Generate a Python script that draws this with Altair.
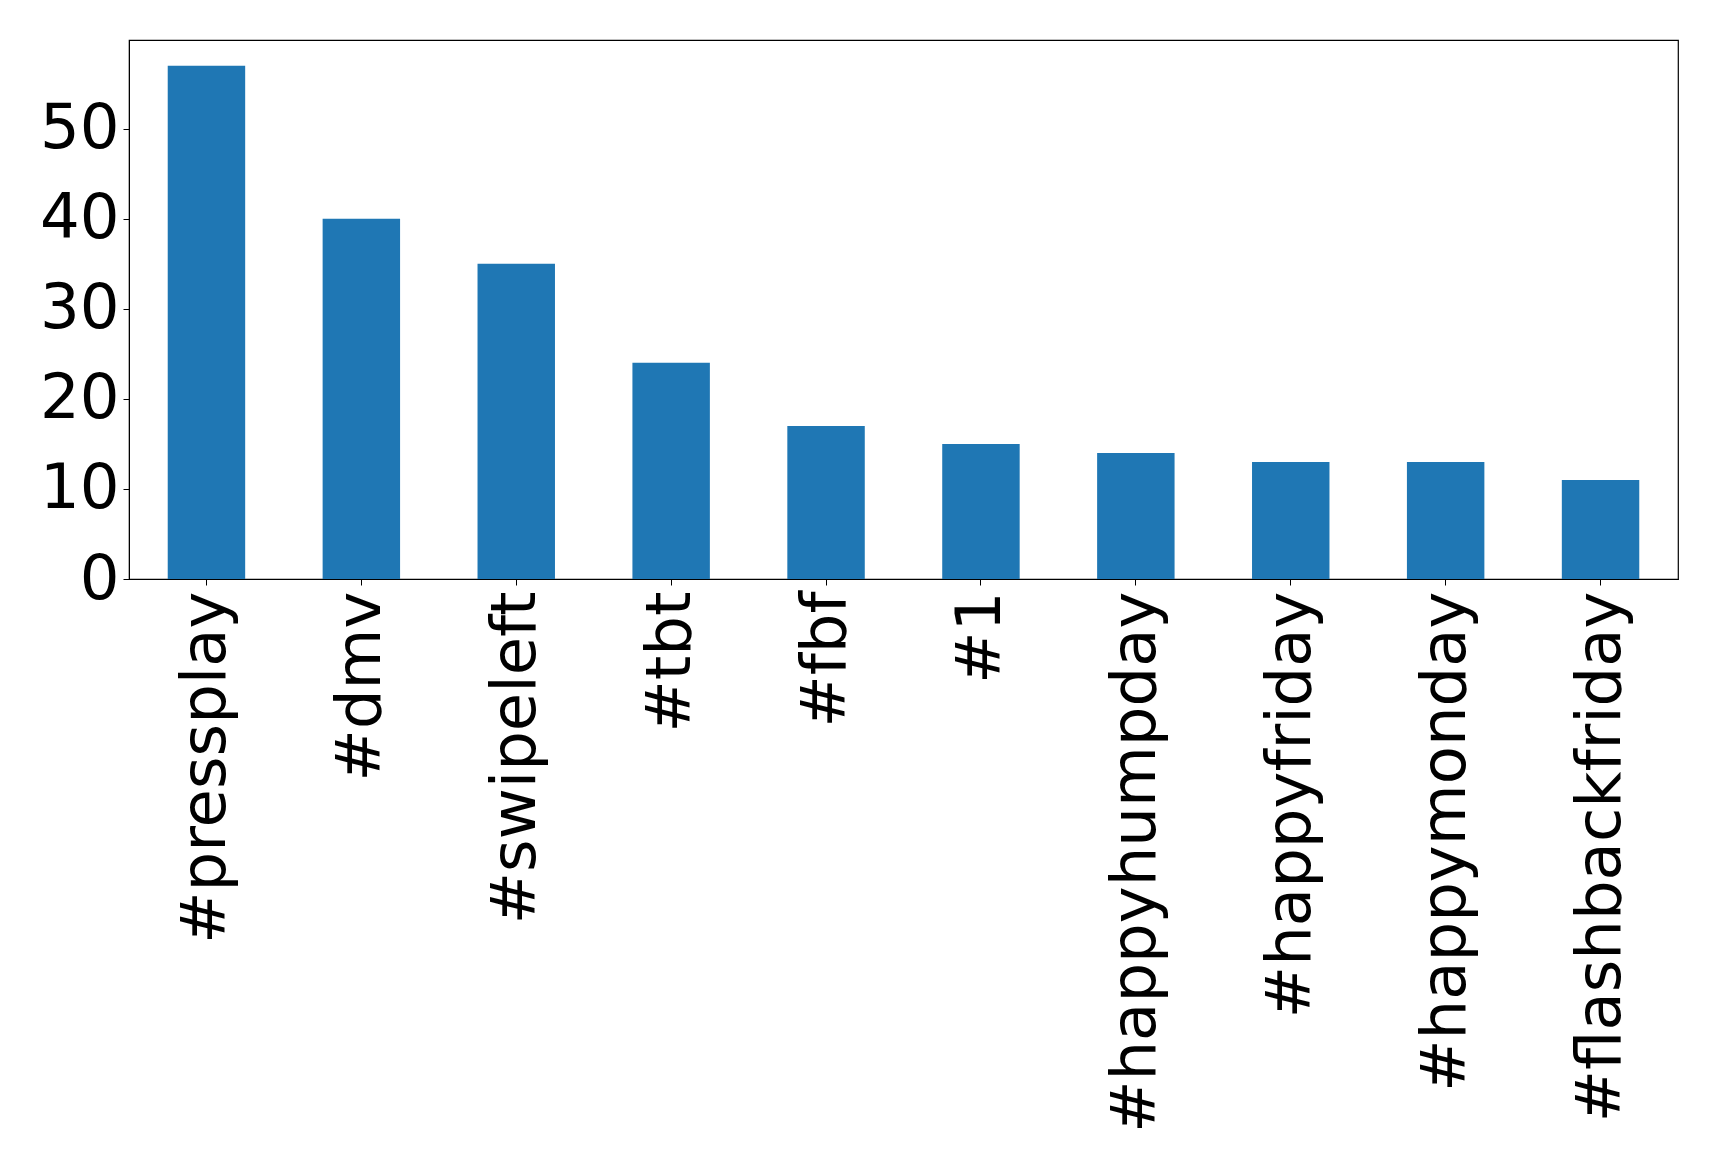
import altair as alt
import pandas as pd

tags = ["#pressplay", "#dmv", "#swipeleft", "#tbt", "#fbf", "#1",
        "#happyhumpday", "#happyfriday", "#happymonday", "#flashbackfriday"]
counts = [57, 40, 35, 24, 17, 15, 14, 13, 13, 11]
y_ticks = [0, 10, 20, 30, 40, 50]

df = pd.DataFrame({"tag": tags, "count": counts})

chart = alt.Chart(df).mark_bar(color="#1f77b4").encode(
    x=alt.X("tag:N", sort=tags, title=None,
            scale=alt.Scale(paddingInner=0.5, paddingOuter=0.25),
            axis=alt.Axis(labelAngle=270, labelAlign="right", labelBaseline="middle",
                          labelFontSize=62.5, labelFont="DejaVu Sans", labelColor="black",
                          tickColor="black", tickSize=6, labelPadding=6,
                          domainColor="black", labelLimit=0)),
    y=alt.Y("count:Q", title=None,
            scale=alt.Scale(domain=[0, 59.85], nice=False, zero=True),
            axis=alt.Axis(values=y_ticks, labelFontSize=62.5, labelFont="DejaVu Sans",
                          labelColor="black", tickColor="black", tickSize=6,
                          labelPadding=4, grid=False, domainColor="black",
                          minExtent=121, maxExtent=121)),
).properties(
    width=1549, height=539,
    padding={"left": 0, "top": 32, "right": 10, "bottom": 10},
    background="white",
).configure_view(stroke="black", strokeWidth=1.2).configure_axis(grid=False)

chart.save("out.html", embed_options={"renderer": "svg", "actions": False})
